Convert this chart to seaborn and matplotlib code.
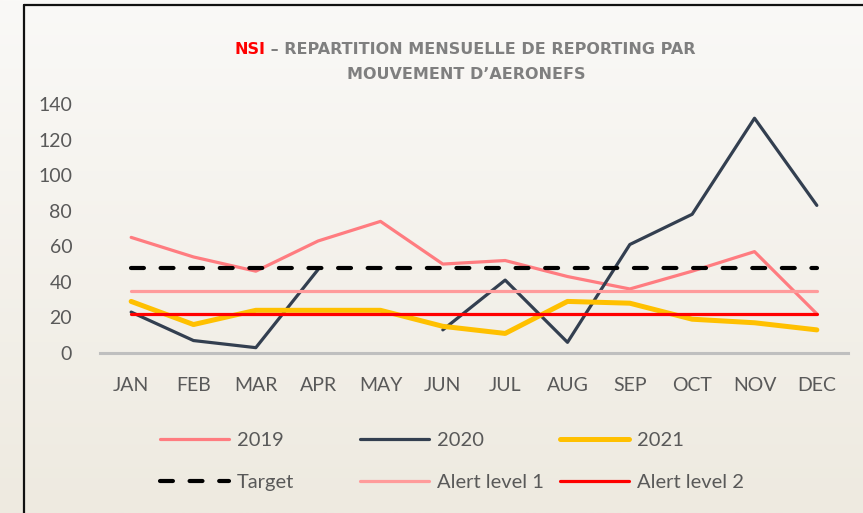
import numpy as np
import pandas as pd
import matplotlib
matplotlib.use("Agg")
import matplotlib.pyplot as plt
from matplotlib.lines import Line2D
import seaborn as sns

months = ["JAN", "FEB", "MAR", "APR", "MAY", "JUN", "JUL", "AUG", "SEP", "OCT", "NOV", "DEC"]
y2019 = [65, 54, 46, 63, 74, 50, 52, 43, 36, 46, 57, 22]
y2020 = [23, 7, 3, 47, np.nan, 13, 41, 6, 61, 78, 132, 83]
y2021 = [29, 16, 24, 24, 24, 15, 11, 29, 28, 19, 17, 13]
target = 48
alert1 = 35
alert2 = 22
yticks = [0, 20, 40, 60, 80, 100, 120, 140]

sns.set_theme(style="white")
plt.rcParams["font.family"] = ["Lato", "DejaVu Sans"]

W, H = 863, 513
fig = plt.figure(figsize=(W / 100, H / 100), dpi=100)

# background gradient + frame
bg = fig.add_axes([0, 0, 1, 1], zorder=-10)
top = np.array([250, 249, 247]) / 255
bot = np.array([238, 234, 224]) / 255
t = np.linspace(0, 1, 256)[:, None]
grad = top + (bot - top) * t
bg.imshow(grad[:, None, :], aspect="auto", extent=[0, 1, 0, 1])
bg.set_xlim(0, 1)
bg.set_ylim(0, 1)
bg.axis("off")
fig.add_artist(Line2D([24 / W, 24 / W], [0, 1 - 5 / H], color="#111111", lw=1.6,
                      transform=fig.transFigure))
fig.add_artist(Line2D([24 / W, 1], [1 - 5 / H, 1 - 5 / H], color="#111111", lw=1.6,
                      transform=fig.transFigure))

ax = fig.add_axes([100 / W, 1 - 353 / H, 748 / W, 249 / H])
ax.patch.set_alpha(0)

df = pd.DataFrame({"x": np.arange(12), "month": months,
                   "y2019": y2019, "y2020": y2020, "y2021": y2021})
df["target"] = target
df["alert1"] = alert1
df["alert2"] = alert2

handles = {}
sns.lineplot(data=df, x="x", y="y2019", color="#FF7C80", lw=2.3, ax=ax)
handles["2019"] = ax.lines[-1]

# 2020 has a gap in May
seg_id = df["y2020"].isna().cumsum()
for _, seg in df.dropna(subset=["y2020"]).groupby(seg_id):
    sns.lineplot(data=seg, x="x", y="y2020", color="#333F50", lw=2.3, ax=ax)
    handles.setdefault("2020", ax.lines[-1])

sns.lineplot(data=df, x="x", y="y2021", color="#FFC000", lw=3.6, ax=ax)
handles["2021"] = ax.lines[-1]

sns.lineplot(data=df, x="x", y="target", color="black", lw=3.0, ax=ax,
             linestyle=(0, (3.1, 4.0)), dash_capstyle="round")
handles["Target"] = ax.lines[-1]
sns.lineplot(data=df, x="x", y="alert1", color="#FF9B9B", lw=2.3, ax=ax)
handles["Alert level 1"] = ax.lines[-1]
sns.lineplot(data=df, x="x", y="alert2", color="#FF0000", lw=2.3, ax=ax)
handles["Alert level 2"] = ax.lines[-1]

ax.set_xlim(-0.5, 11.5)
ax.set_ylim(0, 140)
ax.set_xticks(range(12), months)
ax.set_yticks(yticks)
ax.set_xlabel("")
ax.set_ylabel("")
for s in ["left", "right", "top"]:
    ax.spines[s].set_visible(False)
ax.spines["bottom"].set_color("#BFBFBF")
ax.spines["bottom"].set_linewidth(2.2)
ax.tick_params(length=0, labelsize=14, labelcolor="#595959")
ax.tick_params(axis="y", pad=20)
ax.tick_params(axis="x", pad=17)

# legend: three columns placed like the original
cols = [("2019", "Target", 160), ("2020", "Alert level 1", 360), ("2021", "Alert level 2", 560)]
for a, b, xp in cols:
    fig.legend(handles=[handles[a], handles[b]], labels=[a, b],
               loc="center left", bbox_to_anchor=(xp / W, 1 - 461.5 / H),
               frameon=False, fontsize=14.5, labelcolor="#595959", handlelength=3.45,
               handletextpad=0.35, labelspacing=1.27, borderpad=0, borderaxespad=0)

# title (red "NSI" + grey rest)
tkw = dict(fontsize=11.5, fontweight="bold", family="DejaVu Sans", va="center")
t_red = fig.text(0, 1 - 49 / H, "NSI", color="#FF0000", **tkw)
t_gray = fig.text(0, 1 - 49 / H, " – REPARTITION MENSUELLE DE REPORTING PAR", color="#7F7F7F", **tkw)
fig.text(466 / W, 1 - 75 / H, "MOUVEMENT D’AERONEFS", color="#7F7F7F", ha="center", **tkw)
r = fig.canvas.get_renderer()
w1 = t_red.get_window_extent(r).width
w2 = t_gray.get_window_extent(r).width
x0 = 465 - (w1 + w2) / 2
t_red.set_x(x0 / W)
t_gray.set_x((x0 + w1) / W)

fig.savefig("out.png", dpi=100)
